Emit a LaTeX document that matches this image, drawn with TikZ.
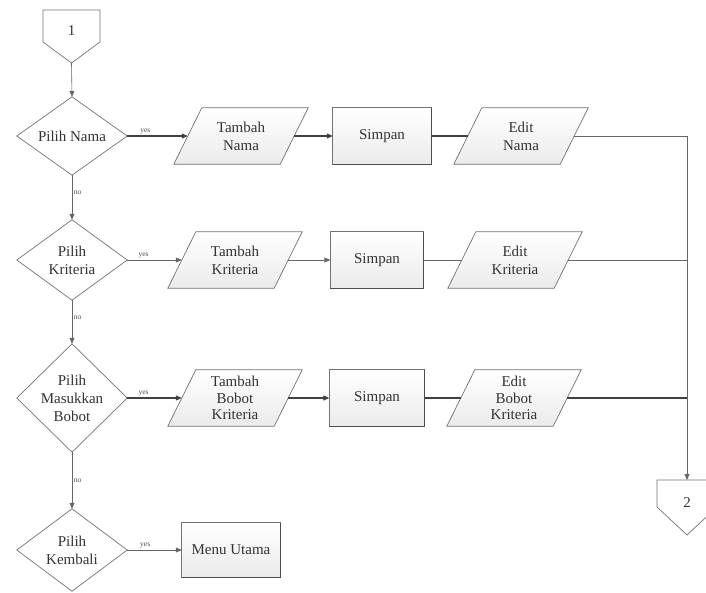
\documentclass[tikz,border=0pt]{standalone}
\usepackage{fontspec}
\setmainfont{Liberation Serif}
\usetikzlibrary{arrows.meta,calc}
\pgfdeclarelayer{bg}
\pgfsetlayers{bg,main}
\tikzset{
  txt/.style={font=\fontsize{15}{18}\selectfont, align=center, text=black!80, inner sep=0pt},
  boxnode/.style={txt, rectangle, minimum height=56pt},
  outl/.style={draw=black!55, line width=0.7pt},
  parafill/.style={outl, top color=white, bottom color=black!8},
  rectfill/.style={outl, top color=white, bottom color=black!8},
  decfill/.style={outl, fill=white},
  conn/.style={draw=black!75, line width=1.1pt},
  connthin/.style={draw=black!60, line width=0.6pt},
  arr/.style={-{Triangle[length=6pt,width=5pt]}},
  lbl/.style={font=\fontsize{7.5}{8}\selectfont, text=black!70, inner sep=1.5pt},
}
\newcommand{\drawpara}[1]{%
  \path[parafill] ($(#1.south west)+(-14pt,0)$) -- ($(#1.south east)+(-14pt,0)$)
    -- ($(#1.north east)+(14pt,0)$) -- ($(#1.north west)+(14pt,0)$) -- cycle;}
\newcommand{\drawdec}[1]{%
  \path[decfill] (#1.north) -- (#1.east) -- (#1.south) -- (#1.west) -- cycle;}
\newcommand{\drawrect}[1]{%
  \path[rectfill] (#1.south west) rectangle (#1.north east);
  \draw[black!70, line width=1pt] (#1.north east) -- (#1.south east) -- (#1.south west);}
\begin{document}
\begin{tikzpicture}[x=1pt,y=-1pt]
\useasboundingbox (0,0) rectangle (706,592);

% off-page connectors
\node[txt] (c1) at (71.5,31) {1};
\coordinate (c1tip) at (71.5,63);
\node[txt] (c2) at (687,503) {2};
\coordinate (c2top) at (687,480);

% decisions
\node[txt, minimum width=110pt, minimum height=78pt] (d1) at (72,136) {Pilih Nama};
\node[txt, minimum width=110pt, minimum height=80pt] (d2) at (72,260) {Pilih\\Kriteria};
\node[txt, minimum width=110pt, minimum height=108pt] (d3) at (72,398) {Pilih\\Masukkan\\Bobot};
\node[txt, minimum width=110pt, minimum height=82pt] (d4) at (72,550) {Pilih\\Kembali};

% row 1
\node[boxnode, minimum width=106pt] (p1) at (241,136) {Tambah\\Nama};
\node[boxnode, minimum width=98pt] (s1) at (382,136) {Simpan};
\node[boxnode, minimum width=106pt] (e1) at (521,136) {Edit\\Nama};
% row 2
\node[boxnode, minimum width=106pt] (p2) at (235,260) {Tambah\\Kriteria};
\node[boxnode, minimum width=93pt] (s2) at (377,260) {Simpan};
\node[boxnode, minimum width=106pt] (e2) at (515,260) {Edit\\Kriteria};
% row 3
\node[boxnode, minimum width=106pt, font=\fontsize{15}{16.5}\selectfont] (p3) at (235,398) {Tambah\\Bobot\\Kriteria};
\node[boxnode, minimum width=95pt] (s3) at (377,398) {Simpan};
\node[boxnode, minimum width=106pt, font=\fontsize{15}{16.5}\selectfont] (e3) at (514,398) {Edit\\Bobot\\Kriteria};
% row 4
\node[boxnode, minimum width=98pt, minimum height=54pt] (m) at (231,550) {Menu Utama};

\begin{pgfonlayer}{bg}
  \fill[white] (0,0) rectangle (706,592);
  \path[decfill] (43,10) -- (100,10) -- (100,42) -- (c1tip) -- (43,42) -- cycle;
  \path[decfill] (657,480) -- (717,480) -- (717,507) -- (687,535) -- (657,507) -- cycle;
  \drawdec{d1}\drawdec{d2}\drawdec{d3}\drawdec{d4}
  \drawpara{p1}\drawpara{e1}\drawpara{p2}\drawpara{e2}\drawpara{p3}\drawpara{e3}
  \drawrect{s1}\drawrect{s2}\drawrect{s3}\drawrect{m}
\end{pgfonlayer}

% vertical flow
\draw[connthin, arr] (c1tip) -- (d1.north);
\draw[connthin, arr] (d1.south) -- node[lbl, right, pos=.4] {no} (d2.north);
\draw[connthin, arr] (d2.south) -- node[lbl, right, pos=.4] {no} (d3.north);
\draw[connthin, arr] (d3.south) -- node[lbl, right, pos=.5] {no} (d4.north);

% row 1
\draw[conn, arr] (d1.east) -- node[lbl, above, pos=.3] {yes} (p1.west);
\draw[conn, arr] (p1.east) -- (s1.west);
\draw[conn] (s1.east) -- (e1.west);
\draw[connthin, line width=0.9pt, arr] (e1.east) -| (c2top);
% row 2
\draw[connthin, arr] (d2.east) -- node[lbl, above, pos=.3] {yes} (p2.west);
\draw[connthin, arr] (p2.east) -- (s2.west);
\draw[connthin] (s2.east) -- (e2.west);
\draw[connthin] (e2.east) -- (e2.east -| c2top);
% row 3
\draw[conn, arr] (d3.east) -- node[lbl, above, pos=.3] {yes} (p3.west);
\draw[conn, arr] (p3.east) -- (s3.west);
\draw[conn] (s3.east) -- (e3.west);
\draw[conn] (e3.east) -- (e3.east -| c2top);
% row 4
\draw[connthin, arr] (d4.east) -- node[lbl, above, pos=.33] {yes} (m.west);
\end{tikzpicture}
\end{document}
